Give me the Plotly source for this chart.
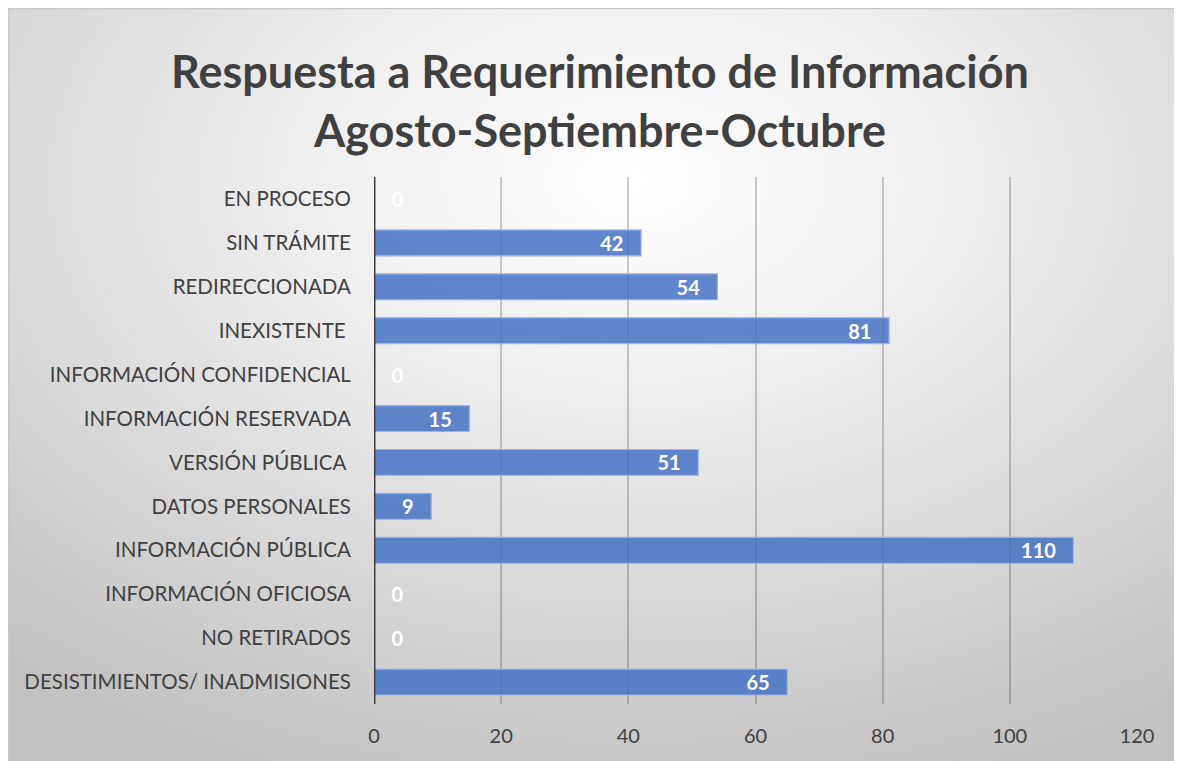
import base64
import plotly.graph_objects as go

# ---- data (bottom to top, as drawn) ----
categories = [
    "DESISTIMIENTOS/ INADMISIONES",
    "NO RETIRADOS",
    "INFORMACIÓN OFICIOSA",
    "INFORMACIÓN PÚBLICA",
    "DATOS PERSONALES",
    "VERSIÓN PÚBLICA ",
    "INFORMACIÓN RESERVADA",
    "INFORMACIÓN CONFIDENCIAL",
    "INEXISTENTE ",
    "REDIRECCIONADA",
    "SIN TRÁMITE",
    "EN PROCESO",
]
values = [65, 0, 0, 110, 9, 51, 15, 0, 81, 54, 42, 0]
x_ticks = [0, 20, 40, 60, 80, 100, 120]
title_lines = ["Respuesta a Requerimiento de Información", "Agosto-Septiembre-Octubre"]

# page body has an 8px margin; figure coordinates below are relative to it
OFF = 8
W, H = 1182 - OFF, 761 - OFF
ML, MR, MT = 374 - OFF, 45, 177 - OFF
MB = H - (704 - OFF)
FONT = "Lato, 'Noto Sans', sans-serif"
NB = "\u00a0"

texts = [f"{v}{NB*3}" if v > 0 else f"{NB*3}{v}" for v in values]
positions = ["inside" if v > 0 else "outside" for v in values]
lab_font = dict(family=FONT, size=20, color="white", weight="bold")

fig = go.Figure(
    go.Bar(
        y=categories,
        x=values,
        orientation="h",
        width=0.59,
        marker=dict(color="rgba(68,114,196,0.85)", line=dict(color="#9db4e0", width=1.2)),
        text=texts,
        textposition=positions,
        insidetextanchor="end",
        textfont=lab_font,
        outsidetextfont=lab_font,
        insidetextfont=lab_font,
        cliponaxis=False,
        constraintext="none",
        hoverinfo="x+y",
    )
)

# radial gradient background as an SVG image
svg = (
    '<svg xmlns="http://www.w3.org/2000/svg" width="1200" height="800" preserveAspectRatio="none">'
    '<defs><radialGradient id="g" cx="52%" cy="22%" r="80%" fx="52%" fy="22%">'
    '<stop offset="0%" stop-color="#ffffff"/>'
    '<stop offset="35%" stop-color="#eeeeee"/>'
    '<stop offset="100%" stop-color="#c2c2c2"/>'
    '</radialGradient></defs>'
    '<rect width="1200" height="800" fill="url(#g)"/></svg>'
)
src = "data:image/svg+xml;base64," + base64.b64encode(svg.encode()).decode()

pw = W - ML - MR
ph = H - MT - MB
def px2fx(px):
    return (px - ML) / pw
def py2fy(py):
    return 1 - (py - MT) / ph

x0, y0 = 0, 0
x1, y1 = W + 30, H + 30
fig.add_layout_image(
    dict(source=src, xref="paper", yref="paper",
         x=px2fx(x0), y=py2fy(y0),
         sizex=px2fx(x1) - px2fx(x0), sizey=py2fy(y0) - py2fy(y1),
         sizing="stretch", xanchor="left", yanchor="top", layer="below")
)
fig.add_shape(type="rect", xref="paper", yref="paper",
              x0=px2fx(x0 + 0.5), x1=px2fx(x1), y0=py2fy(y1), y1=py2fy(y0 + 0.5),
              line=dict(color="#c8c8c8", width=1.5), layer="below")

fig.update_layout(
    width=W, height=H,
    margin=dict(l=ML, r=MR, t=MT, b=MB),
    paper_bgcolor="#c6c6c6",
    plot_bgcolor="rgba(0,0,0,0)",
    showlegend=False,
    bargap=0.41,
    title=dict(
        text="<br>".join(title_lines),
        x=(600 - OFF) / W, xanchor="center", xref="container",
        y=1 - 80 / H, yanchor="middle", yref="container",
        font=dict(family=FONT, size=45, color="#404040", weight="bold"),
    ),
    xaxis=dict(
        range=[0, 120],
        tickvals=x_ticks,
        showgrid=True, gridcolor="rgba(0,0,0,0.2)", gridwidth=1.5,
        zeroline=False, showline=False,
        ticks="outside", ticklen=14, tickcolor="rgba(0,0,0,0)",
        tickfont=dict(family=FONT, size=20, color="#404040"),
        automargin=False,
        fixedrange=True,
    ),
    yaxis=dict(
        categoryorder="array", categoryarray=categories,
        showgrid=False, zeroline=False,
        showline=False,
        ticks="outside", ticklen=18, tickcolor="rgba(0,0,0,0)",
        tickfont=dict(family=FONT, size=20.5, color="#404040"),
        automargin=False,
        fixedrange=True,
    ),
)
# axis line at x = 0
fig.add_shape(type="line", xref="x", yref="paper", x0=0, x1=0, y0=0, y1=1,
              line=dict(color="#404040", width=3), layer="above")

fig.write_html("out.html")
